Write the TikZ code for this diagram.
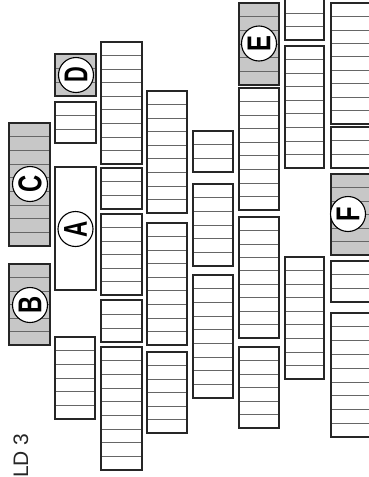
\documentclass[tikz,border=0pt]{standalone}
\usepackage{fontspec}
\setmainfont{Liberation Sans}
\tikzset{
  outl/.style={draw=black!85, line width=1.5pt},
  rowline/.style={draw=black!60, line width=0.7pt},
  plain/.style={fill=white},
  shaded/.style={fill=black!22},
  lbl/.style={circle, draw=black, fill=white, line width=1.1pt, minimum size=35pt, inner sep=0pt,
    font=\fontsize{33}{33}\selectfont\bfseries, rotate=90},
}
\newcommand\seatblk[6]{%
  \fill[#1] (#2,#3) rectangle (#4,#5);
  \pgfmathtruncatemacro\nmone{#6-1}
  \foreach \i in {1,...,\nmone}{
    \draw[rowline] (#2,{#3+(#5-#3)*\i/#6}) -- (#4,{#3+(#5-#3)*\i/#6});
  }
  \draw[outl] (#2,#3) rectangle (#4,#5);
}
\begin{document}
\begin{tikzpicture}[x=1pt,y=-1pt]
\useasboundingbox (0,0) rectangle (369,477);
\fill[white] (0,0) rectangle (369,477);
\begin{scope}
\clip (0,0) rectangle (369,477);
% column 1
\seatblk{shaded}{9}{123}{50}{246}{9}
\seatblk{shaded}{9}{264}{50}{345}{6}
% column 2
\seatblk{shaded}{55}{54}{96}{96}{3}
\seatblk{plain}{55}{102}{96}{143}{3}
\fill[white] (55,167) rectangle (96,290);
\draw[outl] (55,167) rectangle (96,290);
\seatblk{plain}{55}{337}{95}{419}{6}
% column 3
\seatblk{plain}{101}{42}{142}{164}{9}
\seatblk{plain}{101}{168}{142}{209}{3}
\seatblk{plain}{101}{214}{142}{295}{6}
\seatblk{plain}{101}{300}{142}{342}{3}
\seatblk{plain}{101}{347}{142}{470}{9}
% column 4
\seatblk{plain}{147}{91}{187}{213}{9}
\seatblk{plain}{147}{223}{187}{345}{9}
\seatblk{plain}{147}{352}{187}{433}{6}
% column 5
\seatblk{plain}{193}{131}{233}{172}{3}
\seatblk{plain}{193}{184}{233}{266}{6}
\seatblk{plain}{193}{275}{233}{398}{9}
% column 6
\seatblk{shaded}{239}{3}{279}{85}{6}
\seatblk{plain}{239}{88}{279}{210}{9}
\seatblk{plain}{239}{217}{279}{338}{9}
\seatblk{plain}{239}{347}{279}{428}{6}
% column 7
\seatblk{plain}{285}{-0.5}{324}{40}{3}
\seatblk{plain}{285}{46}{324}{168}{9}
\seatblk{plain}{285}{257}{324}{379}{9}
% column 8
\seatblk{plain}{331}{3}{380}{124}{9}
\seatblk{plain}{331}{127}{380}{168}{3}
\seatblk{shaded}{331}{174}{380}{255}{6}
\seatblk{plain}{331}{261}{380}{302}{3}
\seatblk{plain}{331}{313}{380}{437}{9}
% labels
\node[lbl] (D) at (76,75) {\scalebox{0.66}[1]{D}};
\node[lbl] (A) at (75.5,229) {\scalebox{0.68}[1]{A}};
\node[lbl] (C) at (30,184) {\scalebox{0.72}[1]{C}};
\node[lbl] (B) at (30,305) {\scalebox{0.72}[1]{B}};
\node[lbl] (E) at (259,43.5) {\scalebox{0.72}[1]{E}};
\node[lbl] (F) at (348,214) {\scalebox{0.72}[1]{F}};
\node[rotate=90, anchor=base west, inner sep=0pt, text=black!85,
  font=\fontsize{21}{21}\selectfont] (title) at (28,478) {LD 3};
\end{scope}
\end{tikzpicture}
\end{document}
